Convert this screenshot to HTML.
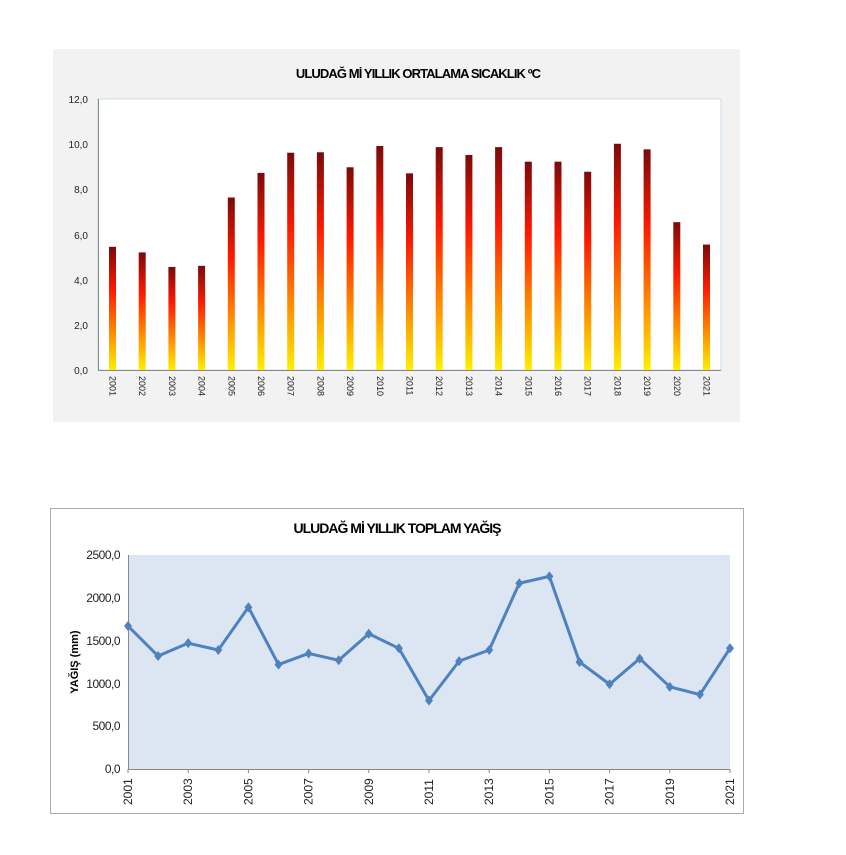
<!DOCTYPE html>
<html><head><meta charset="utf-8"><style>
body{margin:0;background:#fff;width:846px;height:850px;overflow:hidden;font-family:"Liberation Sans",sans-serif;}
</style></head><body>
<svg width="846" height="850" xmlns="http://www.w3.org/2000/svg" font-family="Liberation Sans, sans-serif">
<defs>
<linearGradient id="g" x1="0" y1="0" x2="0" y2="1">
<stop offset="0" stop-color="#7a0a0a"/>
<stop offset="0.35" stop-color="#ff1a00"/>
<stop offset="0.7" stop-color="#ff8c00"/>
<stop offset="1" stop-color="#ffee00"/>
</linearGradient>
</defs>
<rect x="53" y="49" width="687" height="373" fill="#f2f2f2"/>
<rect x="98" y="99" width="623" height="271" fill="#fff" stroke="#c8dce8" stroke-width="1"/>
<line x1="98" y1="370.5" x2="721" y2="370.5" stroke="#888"/>
<line x1="98.5" y1="99" x2="98.5" y2="371" stroke="#888"/>
<text x="418" y="78" font-size="13" font-weight="bold" text-anchor="middle" letter-spacing="-0.9">ULUDAĞ  Mİ YILLIK ORTALAMA SICAKLIK  ºC</text>
<g font-size="10" text-anchor="end" fill="#222">
<text x="88" y="103">12,0</text><text x="88" y="148">10,0</text><text x="88" y="193">8,0</text><text x="88" y="239">6,0</text><text x="88" y="284">4,0</text><text x="88" y="329">2,0</text><text x="88" y="374">0,0</text>
</g>
<g id="bars"></g>
<g id="xl" font-size="9" fill="#222"></g>

<rect x="50.5" y="508.5" width="693" height="305" fill="#fff" stroke="#aaa"/>
<rect x="128" y="555" width="602" height="214" fill="#dce6f2"/>
<line x1="128.5" y1="555" x2="128.5" y2="769" stroke="#888"/>
<line x1="128" y1="769.5" x2="730" y2="769.5" stroke="#888"/>
<text x="397" y="533" font-size="14" font-weight="bold" text-anchor="middle" letter-spacing="-1">ULUDAĞ  Mİ YILLIK TOPLAM YAĞIŞ</text>
<g font-size="12" text-anchor="end" fill="#222" letter-spacing="-0.5">
<text x="120" y="559">2500,0</text><text x="120" y="602">2000,0</text><text x="120" y="645">1500,0</text><text x="120" y="688">1000,0</text><text x="120" y="730">500,0</text><text x="120" y="773">0,0</text>
</g>
<text transform="translate(78,662) rotate(-90)" font-size="11" font-weight="bold" text-anchor="middle">YAĞIŞ  (mm)</text>
<g id="x2" font-size="12" fill="#222"></g>
<polyline id="ln" fill="none" stroke="#4f81bd" stroke-width="3" stroke-linejoin="round"/>
<g id="mk" fill="#4f81bd"></g>
</svg>
<script>
var ns="http://www.w3.org/2000/svg";
var t=[5.5,5.25,4.6,4.65,7.7,8.8,9.7,9.72,9.05,10.0,8.78,9.95,9.6,9.95,9.3,9.3,8.85,10.1,9.85,6.6,5.6];
var b=document.getElementById("bars"),xl=document.getElementById("xl");
t.forEach(function(v,i){var cx=112.5+i*29.7,h=v*22.4;
var r=document.createElementNS(ns,"rect");r.setAttribute("x",cx-3.5);r.setAttribute("y",370-h);r.setAttribute("width",7);r.setAttribute("height",h);r.setAttribute("fill","url(#g)");b.appendChild(r);
var tx=document.createElementNS(ns,"text");tx.setAttribute("transform","translate("+(cx-3)+",376) rotate(90)");tx.textContent=2001+i;xl.appendChild(tx);});
var p=[1670,1320,1470,1390,1890,1220,1350,1270,1580,1410,800,1260,1390,2170,2250,1250,990,1290,960,870,1410];
var pts=[],mk=document.getElementById("mk"),x2=document.getElementById("x2");
p.forEach(function(v,i){var x=128+i*30.1,y=769-v*0.0856;pts.push(x+","+y);
var d=document.createElementNS(ns,"path");d.setAttribute("d","M"+x+","+(y-5)+"l4,5l-4,5l-4,-5z");mk.appendChild(d);
if(i%2==0){var tx=document.createElementNS(ns,"text");tx.setAttribute("transform","translate("+(x+4)+",805) rotate(-90)");tx.textContent=2001+i;x2.appendChild(tx);
var l=document.createElementNS(ns,"line");l.setAttribute("x1",x);l.setAttribute("x2",x);l.setAttribute("y1",769);l.setAttribute("y2",773);l.setAttribute("stroke","#888");x2.appendChild(l);}});
document.getElementById("ln").setAttribute("points",pts.join(" "));
</script>
</body></html>
